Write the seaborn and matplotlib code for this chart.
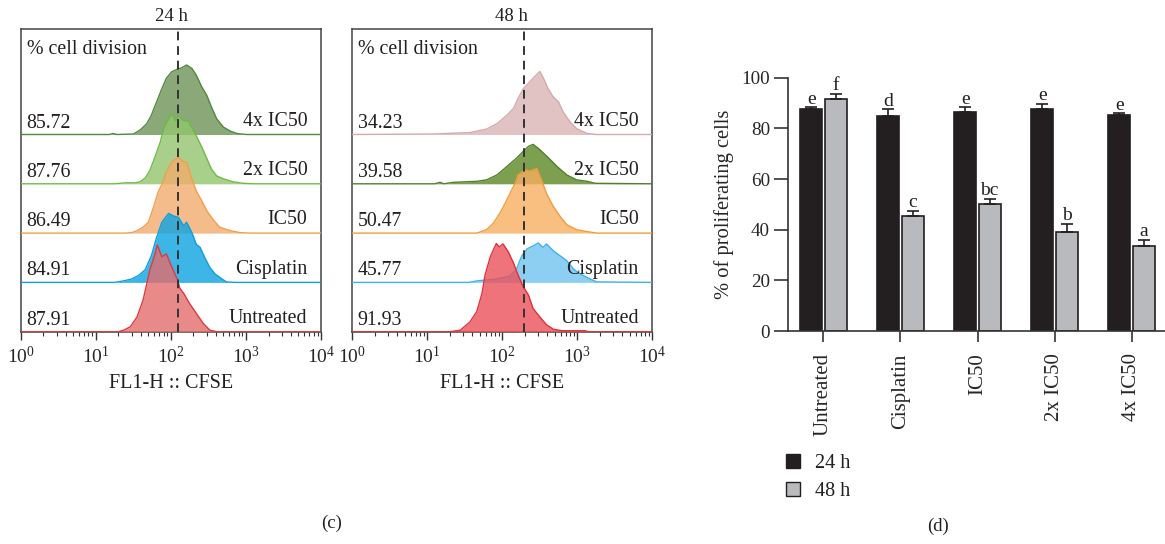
import numpy as np
import pandas as pd
import matplotlib
matplotlib.use("Agg")
import matplotlib.pyplot as plt
import matplotlib.transforms as mtrans
from matplotlib.patches import Patch
import seaborn as sns

# ---------------- data: CFSE histograms (log10 FL1-H, height in row units) -------------
rows = ["Untreated", "Cisplatin", "IC50", "2x IC50", "4x IC50"]
pct_24h = ["87.91", "84.91", "86.49", "87.76", "85.72"]
pct_48h = ["91.93", "45.77", "50.47", "39.58", "34.23"]
gate_24h = 126
gate_48h = 195

u24_x = [0, 1.30, 1.37, 1.46, 1.55, 1.63, 1.72, 1.79, 1.82, 1.88, 1.94, 2.01, 2.09, 2.12, 2.17, 2.25, 2.34, 2.43, 2.52, 2.61, 4]
u24_y = [0, 0, 0.03, 0.10, 0.30, 0.64, 1.25, 1.58, 1.76, 1.52, 1.58, 1.32, 1.05, 0.88, 0.78, 0.57, 0.37, 0.17, 0.03, 0, 0]
c24_x = [0, 1.25, 1.37, 1.48, 1.57, 1.66, 1.74, 1.81, 1.88, 1.97, 2.03, 2.10, 2.17, 2.21, 2.28, 2.34, 2.39, 2.45, 2.52, 2.59, 2.68, 2.74, 2.85, 4]
c24_y = [0, 0, 0.03, 0.07, 0.14, 0.26, 0.54, 0.91, 1.22, 1.40, 1.35, 1.32, 1.15, 1.22, 1.01, 0.77, 0.71, 0.51, 0.30, 0.17, 0.07, 0.01, 0, 0]
i24_x = [0, 1.40, 1.48, 1.55, 1.63, 1.70, 1.74, 1.79, 1.83, 1.88, 1.94, 2.01, 2.10, 2.17, 2.21, 2.28, 2.34, 2.41, 2.48, 2.57, 2.65, 2.79, 2.92, 3.05, 4]
i24_y = [0, 0, 0.01, 0.05, 0.12, 0.22, 0.39, 0.63, 0.83, 0.99, 1.24, 1.44, 1.54, 1.44, 1.44, 1.10, 0.85, 0.66, 0.45, 0.26, 0.12, 0.05, 0.01, 0, 0]
d24_x = [0, 1.25, 1.40, 1.52, 1.59, 1.66, 1.72, 1.79, 1.86, 1.90, 1.97, 2.01, 2.06, 2.10, 2.17, 2.23, 2.28, 2.34, 2.41, 2.48, 2.54, 2.61, 2.70, 2.83, 2.96, 3.10, 4]
d24_y = [0, 0, 0.02, 0.02, 0.04, 0.12, 0.27, 0.55, 0.85, 1.12, 1.32, 1.42, 1.28, 1.38, 1.28, 1.28, 1.14, 0.97, 0.75, 0.51, 0.30, 0.16, 0.10, 0.04, 0.01, 0, 0]
q24_x = [0, 1.18, 1.23, 1.28, 1.50, 1.59, 1.68, 1.74, 1.81, 1.88, 1.94, 2.01, 2.08, 2.14, 2.21, 2.28, 2.34, 2.41, 2.48, 2.54, 2.61, 2.70, 2.79, 2.88, 3.01, 4]
q24_y = [0, 0, 0.02, 0, 0.01, 0.09, 0.22, 0.39, 0.66, 0.93, 1.14, 1.27, 1.32, 1.35, 1.41, 1.34, 1.20, 0.97, 0.79, 0.56, 0.32, 0.15, 0.07, 0.02, 0, 0]

u48_x = [0, 1.30, 1.44, 1.57, 1.66, 1.73, 1.77, 1.84, 1.92, 1.96, 2.01, 2.08, 2.15, 2.21, 2.28, 2.35, 2.41, 2.50, 2.59, 2.68, 2.80, 3.10, 3.15, 4]
u48_y = [0, 0, 0.03, 0.20, 0.41, 0.78, 1.15, 1.52, 1.79, 1.72, 1.78, 1.62, 1.39, 1.15, 0.91, 0.74, 0.47, 0.30, 0.14, 0.05, 0.02, 0.02, 0, 0]
c48_x = [0, 1.55, 1.66, 1.93, 2.10, 2.19, 2.26, 2.33, 2.41, 2.48, 2.54, 2.59, 2.68, 2.77, 2.86, 2.95, 3.04, 3.17, 3.26, 4]
c48_y = [0, 0, 0.03, 0.07, 0.13, 0.27, 0.54, 0.68, 0.74, 0.80, 0.71, 0.78, 0.64, 0.54, 0.44, 0.27, 0.17, 0.07, 0.01, 0]
i48_x = [0, 1.60, 1.66, 1.79, 1.88, 1.97, 2.04, 2.10, 2.17, 2.21, 2.30, 2.37, 2.46, 2.53, 2.59, 2.68, 2.77, 2.86, 2.99, 3.13, 3.26, 4]
i48_y = [0, 0, 0, 0.07, 0.20, 0.41, 0.61, 0.80, 1.01, 1.18, 1.28, 1.26, 1.31, 1.05, 0.80, 0.54, 0.34, 0.17, 0.07, 0.03, 0, 0]
d48_x = [0, 1.10, 1.17, 1.22, 1.35, 1.66, 1.79, 1.93, 2.06, 2.19, 2.28, 2.35, 2.41, 2.48, 2.55, 2.64, 2.73, 2.86, 2.99, 3.13, 3.24, 4]
d48_y = [0, 0, 0.03, 0.0, 0.03, 0.05, 0.08, 0.18, 0.35, 0.52, 0.66, 0.76, 0.80, 0.72, 0.62, 0.49, 0.35, 0.18, 0.08, 0.05, 0.01, 0]
q48_x = [0, 1.08, 1.57, 1.79, 1.93, 2.06, 2.15, 2.21, 2.28, 2.35, 2.41, 2.50, 2.55, 2.61, 2.68, 2.75, 2.81, 2.90, 2.99, 3.13, 3.26, 4]
q48_y = [0, 0.01, 0.04, 0.11, 0.22, 0.39, 0.53, 0.73, 0.93, 1.04, 1.14, 1.28, 1.14, 0.93, 0.76, 0.66, 0.46, 0.26, 0.12, 0.02, 0, 0]

# ---------------- data: bar chart ----------------
treatments = ["Untreated", "Cisplatin", "IC50", "2x IC50", "4x IC50"]
times = ["24 h", "48 h"]
prolif_24h = [87.6, 84.7, 86.3, 87.5, 85.4]
prolif_48h = [91.6, 45.5, 50.3, 39.2, 33.7]
err_24h = [0.7, 2.8, 2.0, 2.0, 0.5]
err_48h = [2.1, 2.0, 1.9, 3.0, 2.2]
letters_24h = ["e", "d", "e", "e", "e"]
letters_48h = ["f", "c", "bc", "b", "a"]

# ---------------- styling ----------------
sns.set_theme(style="ticks")
plt.rcParams["font.family"] = ["Liberation Serif", "DejaVu Serif"]
plt.rcParams["mathtext.fontset"] = "custom"
plt.rcParams["mathtext.rm"] = "Liberation Serif"
plt.rcParams["mathtext.it"] = "Liberation Serif:italic"
plt.rcParams["mathtext.bf"] = "Liberation Serif:bold"
plt.rcParams["text.color"] = "#231f20"

cols_24 = [("#e46d6d", "#e0393e"), ("#0ca3e2", "#0d9fdf"), ("#f2ac6d", "#f0a04b"),
           ("#92c56d", "#6dbb45"), ("#6e9256", "#4d8a3c")]
cols_48 = [("#eb505a", "#e2303a"), ("#70c4ef", "#3fb2e8"), ("#f7af60", "#f29c3a"),
           ("#5c8724", "#527f2c"), ("#dbb4b6", "#d6a9ac")]

W, H = 1165, 544
fig = plt.figure(figsize=(W / 100, H / 100), dpi=100)
axL = fig.add_axes([20.7 / W, 1 - 331.7 / H, 300.3 / W, 303 / H])
axR = fig.add_axes([352.3 / W, 1 - 331.7 / H, 300 / W, 303 / H])
axB = fig.add_axes([788 / W, 1 - 331 / H, 377 / W, 253.3 / H])

TXT = 14.3


def draw_hist(ax, curves, colors, pcts, gate, title, title_x):
    ax.set_xscale("log")
    ax.set_xlim(1, 1e4)
    ax.set_ylim(0, 6.146)
    for k in reversed(range(len(rows))):
        xs, ys = curves[k]
        fc, ec = colors[k]
        x = 10 ** np.asarray(xs)
        y = k + np.asarray(ys)
        z = 2 + 2 * (len(rows) - k)
        ax.fill_between(x, k, y, color=fc, alpha=0.8, lw=0, zorder=z)
        ax.plot(x, y, color=ec, lw=1.0, zorder=z + 1)
    tr = mtrans.blended_transform_factory(ax.transAxes, ax.transData)
    for k in range(len(rows)):
        ax.text(0.955, k + 0.18, rows[k], transform=tr, ha="right", va="baseline",
                fontsize=TXT, zorder=30)
        ax.text(0.018, k + 0.14, pcts[k], transform=tr, ha="left", va="baseline",
                fontsize=TXT, zorder=30)
    ax.axvline(gate, color="#333333", ls=(0, (4.5, 3)), lw=1.4, zorder=25)
    ax.text(0.02, 0.915, "% cell division", transform=ax.transAxes, ha="left",
            va="baseline", fontsize=TXT)
    ax.text(title_x, 1.025, title, transform=ax.transAxes, ha="center", va="baseline",
            fontsize=13.5)
    ax.text(0.5, -0.172, "FL1-H :: CFSE", transform=ax.transAxes, ha="center",
            va="center", fontsize=14.5)
    ax.set_yticks([])
    ax.tick_params(axis="x", which="major", direction="out", length=6, width=1.0,
                   color="#333333", labelsize=14, pad=4)
    ax.tick_params(axis="x", which="minor", direction="out", length=3, width=0.8,
                   color="#333333")
    for s in ax.spines.values():
        s.set_color("#444444")
        s.set_linewidth(1.1)
    ax.set_xlabel("")
    ax.set_ylabel("")


curves24 = [(u24_x, u24_y), (c24_x, c24_y), (i24_x, i24_y), (d24_x, d24_y), (q24_x, q24_y)]
curves48 = [(u48_x, u48_y), (c48_x, c48_y), (i48_x, i48_y), (d48_x, d48_y), (q48_x, q48_y)]
draw_hist(axL, curves24, cols_24, pct_24h, gate_24h, "24 h", 0.503)
draw_hist(axR, curves48, cols_48, pct_48h, gate_48h, "48 h", 0.532)

# ---------------- bar chart ----------------
df = pd.DataFrame({
    "treatment": treatments * 2,
    "time": [times[0]] * len(treatments) + [times[1]] * len(treatments),
    "value": prolif_24h + prolif_48h,
})
bar_cols = ["#231f20", "#b9babd"]
sns.barplot(data=df, x="treatment", y="value", hue="time", order=treatments,
            hue_order=times, palette=bar_cols, width=0.63, gap=0.1,
            edgecolor="#231f20", linewidth=1.2, errorbar=None, legend=False,
            saturation=1, ax=axB)

for cont, errs, lets in zip(axB.containers, [err_24h, err_48h], [letters_24h, letters_48h]):
    xs = [p.get_x() + p.get_width() / 2 for p in cont.patches]
    hs = [p.get_height() for p in cont.patches]
    axB.errorbar(xs, hs, yerr=[np.zeros(len(errs)), errs], fmt="none",
                 ecolor="#231f20", elinewidth=1.2, capsize=4, capthick=1.2,
                 zorder=5, clip_on=False)
    for x, h, e, t in zip(xs, hs, errs, lets):
        axB.text(x, h + e + 1.5, t, ha="center", va="baseline", fontsize=14,
                 clip_on=False)

axB.set_ylim(0, 100)
axB.set_xlim(-0.461, 4.435)
axB.set_yticks([0, 20, 40, 60, 80, 100])
sns.despine(ax=axB)
for s in ["left", "bottom"]:
    axB.spines[s].set_color("#333333")
    axB.spines[s].set_linewidth(1.2)
axB.tick_params(axis="y", direction="out", length=10, width=1.2, color="#333333",
                labelsize=13.8, pad=3)
axB.tick_params(axis="x", direction="out", length=8, width=1.2, color="#333333",
                labelsize=15, pad=8, labelrotation=90)
axB.set_xlabel("")
axB.set_ylabel("% of proliferating cells", fontsize=14.8, labelpad=5)

handles = [Patch(facecolor=c, edgecolor="#231f20", linewidth=1.0) for c in bar_cols]
axB.legend(handles, times, loc="upper left", bbox_to_anchor=(786 / W, 1 - 454 / H),
           bbox_transform=fig.transFigure, frameon=False, handlelength=0.7,
           handleheight=0.7, handletextpad=0.75, borderpad=0, borderaxespad=0,
           labelspacing=0.42, fontsize=14.5)

fig.text(332 / W, 1 - 523 / H, "(c)", ha="center", va="center", fontsize=13.5)
fig.text(938 / W, 1 - 526 / H, "(d)", ha="center", va="center", fontsize=13.5)

fig.savefig("out.png", dpi=100)
